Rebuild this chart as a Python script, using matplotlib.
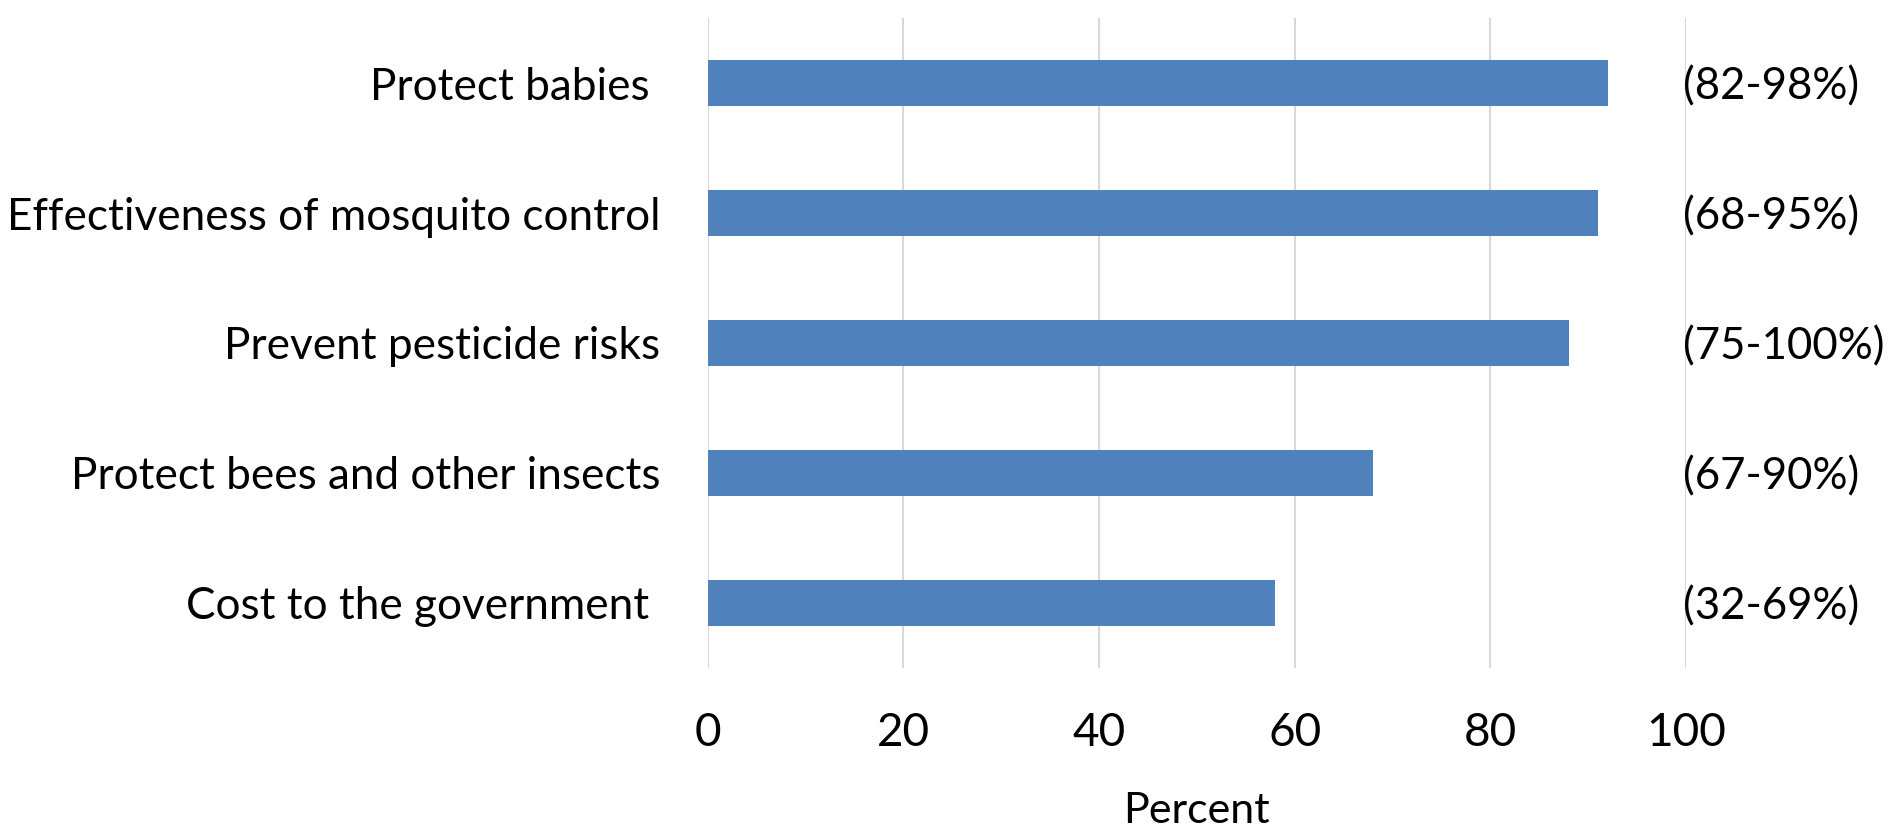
import matplotlib
matplotlib.use("Agg")
import matplotlib.pyplot as plt

categories = [
    "Protect babies ",
    "Effectiveness of mosquito control",
    "Prevent pesticide risks",
    "Protect bees and other insects",
    "Cost to the government ",
]
percent = [92, 91, 88, 68, 58]
ranges = ["(82-98%)", "(68-95%)", "(75-100%)", "(67-90%)", "(32-69%)"]
x_ticks = [0, 20, 40, 60, 80, 100]

plt.rcParams["font.family"] = ["Lato", "DejaVu Sans"]

fig = plt.figure(figsize=(18.87, 8.30), dpi=100)
ax = fig.add_axes([0.375, 0.1952, 0.5185, 0.7831])

y = list(range(len(categories)))
ax.barh(y, percent, height=0.354, color="#4f81bd", zorder=3)

ax.set_xlim(0, 100)
ax.set_ylim(len(categories) - 0.5, -0.5)
ax.set_xticks(x_ticks)
ax.set_xticklabels([str(t) for t in x_ticks], fontsize=33)
ax.set_yticks(y)
ax.set_yticklabels(categories, fontsize=31.8)
ax.tick_params(axis="x", length=0, pad=32)
ax.tick_params(axis="y", length=0, pad=34)

ax.grid(axis="x", color="#d9d9d9", linewidth=1.5, zorder=0)
ax.grid(axis="y", visible=False)
for side in ax.spines.values():
    side.set_visible(False)

# interval labels on the right, starting at the 100 gridline
for yi, label in zip(y, ranges):
    ax.text(99.7, yi + 0.03, label, fontsize=31.5, va="center", ha="left")

ax.set_xlabel("Percent", fontsize=31, labelpad=27)

fig.savefig("out.png", dpi=100)
plt.close(fig)
